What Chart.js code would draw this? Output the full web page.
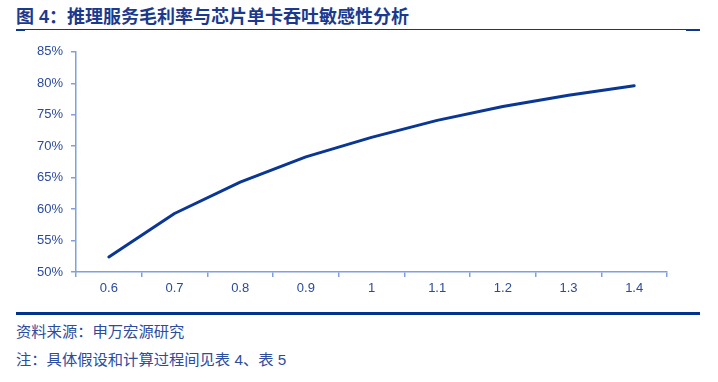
<!DOCTYPE html>
<html>
<head>
<meta charset="utf-8">
<script src="https://cdn.jsdelivr.net/npm/chart.js@4"></script>
<style>
  html, body { margin:0; padding:0; background:#fff; }
  body { width:718px; height:382px; position:relative; overflow:hidden; }
  .title { position:absolute; left:16px; top:7.5px; font-family:"Liberation Sans","Noto Sans CJK SC",sans-serif; font-weight:700; font-size:18px; line-height:18px; color:#1b3a8e; white-space:nowrap; }
  .foot { position:absolute; left:16px; font-family:"Liberation Sans","Noto Sans CJK SC",sans-serif; font-size:15.3px; line-height:15px; color:#2c4c9e; white-space:nowrap; }
  .rule { position:absolute; background:#0f3790; }
  #wrap { position:absolute; left:0; top:36px; width:718px; height:264px; }
</style>
</head>
<body>
<div class="title">图 4：推理服务毛利率与芯片单卡吞吐敏感性分析</div>
<div class="rule" style="left:16px; top:29px; width:684px; height:1px;"></div>
<div class="rule" style="left:16px; top:29px; width:9px; height:2px;"></div>
<div class="rule" style="left:686px; top:29px; width:14px; height:2px;"></div>
<div id="wrap"><canvas id="c" width="718" height="264"></canvas></div>
<div class="rule" style="left:16px; top:312px; width:684px; height:3px; background:#00338f;"></div>
<div class="foot" style="top:324px;">资料来源：申万宏源研究</div>
<div class="foot" style="top:352px;">注：具体假设和计算过程间见表 4、表 5</div>
<script>
const categories = ['0.6','0.7','0.8','0.9','1','1.1','1.2','1.3','1.4'];
const grossMargin = [52.4, 59.3, 64.3, 68.3, 71.4, 74.1, 76.3, 78.1, 79.6];
const yTicks = [50, 55, 60, 65, 70, 75, 80, 85];

const axisColor = '#7f9fdf';
const labelColor = '#2a4a9c';
const tickFont = { family: '"Liberation Sans", Arial, sans-serif', size: 13 };

new Chart(document.getElementById('c'), {
  type: 'line',
  data: {
    labels: categories,
    datasets: [{
      data: grossMargin,
      borderColor: '#0a3794',
      borderWidth: 3,
      pointRadius: 0,
      pointHoverRadius: 0,
      tension: 0,
      fill: false,
      borderCapStyle: 'round',
      borderJoinStyle: 'round'
    }]
  },
  options: {
    responsive: false,
    animation: false,
    events: [],
    layout: { padding: { top: 13, right: 51, bottom: 0, left: 0 } },
    plugins: { legend: { display: false }, tooltip: { enabled: false } },
    scales: {
      x: {
        offset: true,
        grid: { offset: true, drawOnChartArea: false, drawTicks: true, tickLength: 5, color: axisColor, lineWidth: 1.5 },
        border: { color: axisColor, width: 1.5 },
        ticks: { color: labelColor, font: tickFont, padding: 4, maxRotation: 0 },
        afterFit: s => { s.height = 28; }
      },
      y: {
        min: 50, max: 85,
        afterBuildTicks: s => { s.ticks = yTicks.map(v => ({ value: v })); },
        grid: { drawOnChartArea: false, drawTicks: true, tickLength: 5, color: axisColor, lineWidth: 1.5 },
        border: { color: axisColor, width: 1.5 },
        ticks: { color: labelColor, font: tickFont, padding: 8, callback: v => v + '%' },
        afterFit: s => { s.width = 76; }
      }
    }
  }
});
</script>
</body>
</html>
